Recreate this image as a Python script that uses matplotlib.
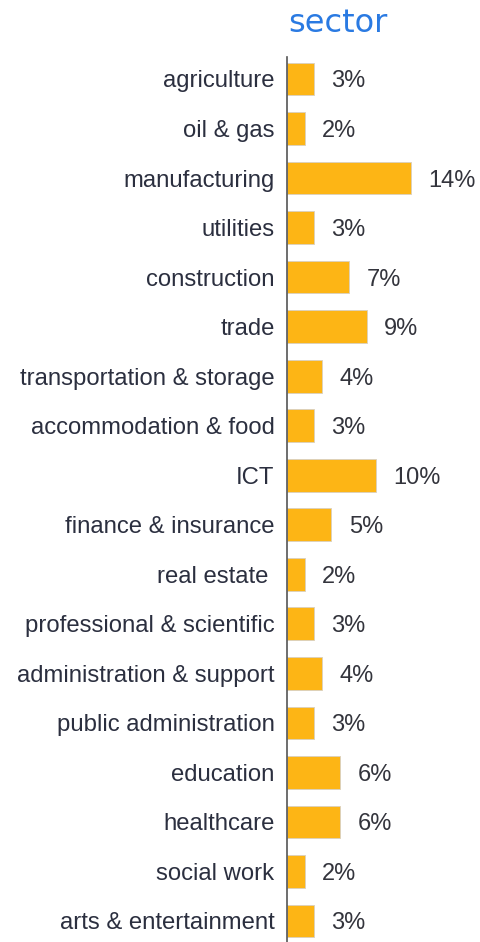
import matplotlib
matplotlib.use("Agg")
import matplotlib.pyplot as plt

# share of firms by sector (%)
sectors = [
    "agriculture", "oil & gas", "manufacturing", "utilities", "construction",
    "trade", "transportation & storage", "accommodation & food", "ICT",
    "finance & insurance", "real estate ", "professional & scientific",
    "administration & support", "public administration", "education",
    "healthcare", "social work", "arts & entertainment",
]
shares = [3, 2, 14, 3, 7, 9, 4, 3, 10, 5, 2, 3, 4, 3, 6, 6, 2, 3]

BAR_COLOR = "#FDB515"
TEXT_COLOR = "#2b2f3f"
TITLE_COLOR = "#2a7ae2"

fig = plt.figure(figsize=(4.8, 9.42), dpi=100)
ax = fig.add_axes([0.598, 0.0, 0.402, 0.9395])

ypos = list(range(len(sectors)))
ax.barh(ypos, shares, height=0.66, color=BAR_COLOR, edgecolor="#d8d0c0", linewidth=0.6)

for y, v in zip(ypos, shares):
    ax.annotate(f"{v}%", (v, y), xytext=(12.5, 0), textcoords="offset points",
                ha="left", va="center_baseline", fontsize=17, color="#33343c",
                family="Liberation Sans")

ax.set_yticks(ypos)
ax.set_yticklabels(sectors, fontsize=17.2, color=TEXT_COLOR, family="Liberation Sans")
ax.tick_params(axis="y", length=0, pad=9)
ax.set_xticks([])
ax.set_xlim(0, 21.8)
ax.set_ylim(17.424, -0.444)

for side in ("top", "right", "bottom"):
    ax.spines[side].set_visible(False)
ax.spines["left"].set_color("#555555")
ax.spines["left"].set_linewidth(1.2)

fig.text(0.704, 0.975, "sector", ha="center", va="center", fontsize=23,
         color=TITLE_COLOR, family="DejaVu Sans")

fig.savefig("out.png", dpi=100)
